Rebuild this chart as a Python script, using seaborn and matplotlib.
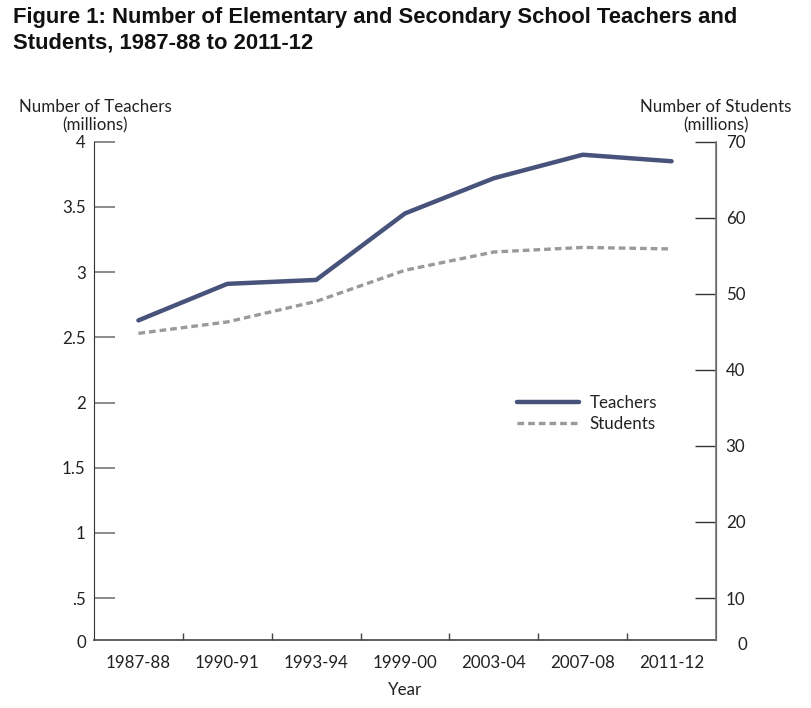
import numpy as np
import pandas as pd
import matplotlib
matplotlib.use("Agg")
import matplotlib.pyplot as plt
import seaborn as sns

years = ["1987-88", "1990-91", "1993-94", "1999-00", "2003-04", "2007-08", "2011-12"]
teachers = [2.63, 2.91, 2.94, 3.45, 3.72, 3.90, 3.85]
students = [44.8, 46.3, 49.0, 53.1, 55.5, 56.1, 55.9]

left_ticks = [0.5, 1, 1.5, 2, 2.5, 3, 3.5, 4]
left_labels = [".5", "1", "1.5", "2", "2.5", "3", "3.5", "4"]
right_ticks = [10, 20, 30, 40, 50, 60, 70]
right_labels = ["10", "20", "30", "40", "50", "60", "70"]

df = pd.DataFrame({"Year": years, "Teachers": teachers, "Students": students})

sns.set_style("ticks")
plt.rcParams["font.family"] = ["Lato", "DejaVu Sans"]
text_color = "#222222"
teach_color = "#47537a"
stud_color = "#9a9a9c"
fs = 12.2

fig = plt.figure(figsize=(8.12, 7.08), dpi=100)
ax = fig.add_axes([94 / 812, 1 - 640 / 708, 622 / 812, (640 - 141.7) / 708])
ax2 = ax.twinx()

sns.lineplot(data=df, x="Year", y="Teachers", ax=ax, color=teach_color,
             linewidth=3.2, label="Teachers", legend=False, sort=False)
sns.lineplot(data=df, x="Year", y="Students", ax=ax2, color=stud_color,
             linewidth=2.4, label="Students", legend=False, sort=False,
             linestyle=(0, (2.0, 1.2)))

# compressed bottom: both axes show "0" at the baseline
ax.set_ylim(0.179, 4)
ax2.set_ylim(4.48, 70)
ax.set_xlim(-0.5, len(years) - 0.5)

ax.set_yticks(left_ticks)
ax.set_yticklabels(left_labels)
ax2.set_yticks(right_ticks)
ax2.set_yticklabels(right_labels)

ax.set_xticks(range(len(years)))
ax.set_xticklabels(years)
ax.set_xticks(np.arange(0.5, len(years) - 0.5), minor=True)
ax.tick_params(axis="x", which="major", length=0, pad=11, labelsize=fs, labelcolor=text_color)
ax.tick_params(axis="x", which="minor", direction="in", length=5, color="#444444", width=1)
ax.tick_params(axis="y", direction="in", length=15, color="#777777", width=1.2,
               labelsize=fs, labelcolor=text_color, pad=6)
ax2.tick_params(axis="y", direction="in", length=15, color="#333333", width=1,
                labelsize=fs, labelcolor=text_color, pad=7)

ax.text(-0.012, -0.006, "0", transform=ax.transAxes, ha="right", va="center",
        fontsize=fs, color=text_color)
ax2.text(1.035, -0.01, "0", transform=ax2.transAxes, ha="left", va="center",
         fontsize=fs, color=text_color)

for a in (ax, ax2):
    a.spines["top"].set_visible(False)
    a.set_xlabel("")
    a.set_ylabel("")
ax.spines["left"].set_color("#333333")
ax.spines["bottom"].set_color("#444444")
ax.spines["bottom"].set_linewidth(1.2)
ax2.spines["left"].set_visible(False)
ax2.spines["bottom"].set_visible(False)
ax2.spines["right"].set_color("#777777")
ax2.spines["right"].set_linewidth(1.2)

ax.set_xlabel("Year", fontsize=fs, color=text_color, labelpad=8)

fig.text(95 / 812, 1 - 116 / 708, "Number of Teachers\n(millions)", ha="center",
         va="center", fontsize=fs, color=text_color, linespacing=1.2)
fig.text(716 / 812, 1 - 116 / 708, "Number of Students\n(millions)", ha="center",
         va="center", fontsize=fs, color=text_color, linespacing=1.2)

fig.text(13 / 812, 1 - 7 / 708,
         "Figure 1: Number of Elementary and Secondary School Teachers and\nStudents, 1987-88 to 2011-12",
         ha="left", va="top", fontsize=15.8, fontweight="bold", color="#111111",
         family=["Liberation Sans"], linespacing=1.25)

h1, l1 = ax.get_legend_handles_labels()
h2, l2 = ax2.get_legend_handles_labels()
leg = ax.legend(h1 + h2, l1 + l2, loc="upper left", bbox_to_anchor=(0.655, 0.522),
                frameon=False, handlelength=3.7, fontsize=fs, labelspacing=0.3,
                handletextpad=0.6)
for t in leg.get_texts():
    t.set_color(text_color)

fig.savefig("out.png", dpi=100)
